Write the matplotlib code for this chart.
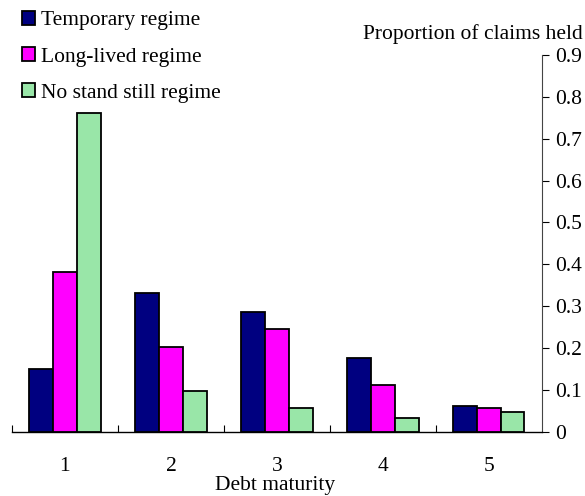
import numpy as np
import matplotlib.pyplot as plt
from matplotlib.patches import Patch

plt.rcParams['font.family'] = ['Liberation Serif', 'DejaVu Serif']

maturity = ['1', '2', '3', '4', '5']
temporary = [0.149, 0.332, 0.287, 0.175, 0.062]
long_lived = [0.382, 0.203, 0.245, 0.111, 0.056]
no_standstill = [0.761, 0.098, 0.056, 0.033, 0.048]
y_ticks = [0, 0.1, 0.2, 0.3, 0.4, 0.5, 0.6, 0.7, 0.8, 0.9]
y_labels = ['0', '0.1', '0.2', '0.3', '0.4', '0.5', '0.6', '0.7', '0.8', '0.9']

series = [
    ('Temporary regime', temporary, '#000080'),
    ('Long-lived regime', long_lived, '#ff00ff'),
    ('No stand still regime', no_standstill, '#99e6a8'),
]

fs = 15.5

fig = plt.figure(figsize=(5.85, 4.96), dpi=100)
ax = fig.add_axes([0.0205, 0.1296, 0.9055, 0.7594])

x = np.arange(1, len(maturity) + 1)
w = 0.225
for i, (name, vals, col) in enumerate(series):
    ax.bar(x + (i - 1) * w, vals, w, color=col, edgecolor='black', linewidth=1.3, zorder=3)

ax.set_xlim(0.5, 5.5)
ax.set_ylim(0, 0.9)

# value axis on the right, ticks pointing outward
ax.yaxis.tick_right()
ax.set_yticks(y_ticks)
ax.set_yticklabels(y_labels)
ax.tick_params(axis='y', direction='out', length=5, width=0.8, labelsize=fs, pad=5)

# category separators as small inward ticks, labels at centres
ax.set_xticks(np.arange(0.5, 5.5, 1.0))
ax.set_xticklabels([])
ax.set_xticks(x, minor=True)
ax.set_xticklabels(maturity, minor=True)
ax.tick_params(axis='x', which='major', direction='in', length=5, width=0.8)
ax.tick_params(axis='x', which='minor', length=0, labelsize=fs, pad=18)

for s in ['top', 'left']:
    ax.spines[s].set_visible(False)
ax.spines['right'].set_color('#444444')
ax.spines['right'].set_linewidth(0.8)
ax.spines['bottom'].set_linewidth(1.0)

fig.text(0.997, 0.912, 'Proportion of claims held', ha='right', va='bottom', fontsize=fs)
fig.text(0.47, 0.002, 'Debt maturity', ha='center', va='bottom', fontsize=fs)

handles = [Patch(facecolor=c, edgecolor='black', linewidth=1.3, label=n) for n, _, c in series]
fig.legend(handles=handles, loc='upper left', bbox_to_anchor=(0.037, 0.978), frameon=False,
           fontsize=fs, handlelength=0.6, handleheight=0.6, handletextpad=0.3,
           labelspacing=0.78, borderaxespad=0, borderpad=0)

fig.savefig('out.png', dpi=100)
